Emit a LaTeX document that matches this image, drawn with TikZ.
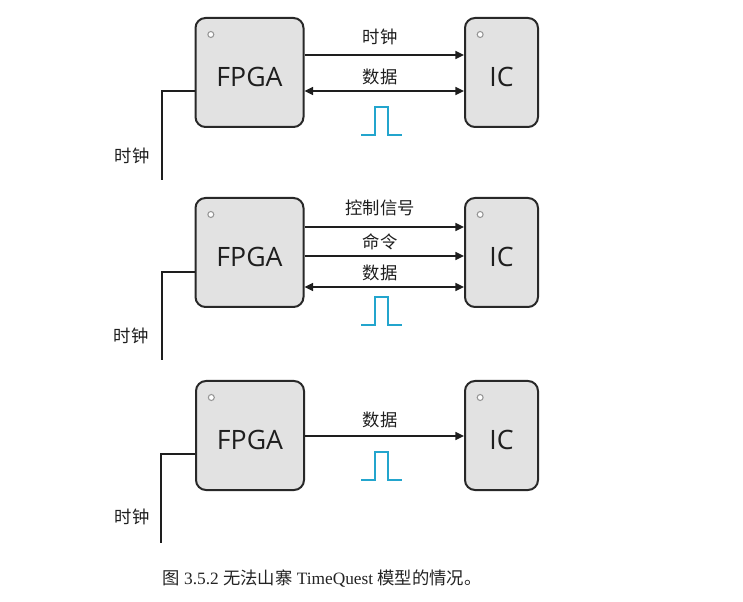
\documentclass[tikz,border=0pt]{standalone}
\usepackage{fontspec}
\setmainfont{Liberation Serif}
\newfontfamily\cjk{Noto Sans CJK SC}
\newfontfamily\chipfont{Open Sans}
\usetikzlibrary{arrows.meta}

\tikzset{every picture/.style={line width=0.75pt}}
\tikzset{
  chip/.style={draw={rgb, 255:red, 40; green, 40; blue, 40}, line width=1.5pt, fill={rgb, 255:red, 226; green, 226; blue, 226}, rounded corners=7.5pt, minimum height=81.75pt, inner sep=0pt},
  fpgabox/.style={chip, minimum width=81pt},
  icbox/.style={chip, minimum width=54.75pt},
  chiptext/.style={font=\chipfont\fontsize{20}{20}\selectfont, text={rgb, 255:red, 30; green, 30; blue, 30}},
  pin/.style={draw={rgb, 255:red, 150; green, 150; blue, 150}, fill=white, line width=0.8pt, circle, inner sep=0pt, minimum size=4.5pt},
  lbl/.style={font=\cjk\fontsize{13}{13}\selectfont, text={rgb, 255:red, 30; green, 30; blue, 30}},
  sig/.style={draw={rgb, 255:red, 30; green, 30; blue, 30}, line width=1.1pt, -{Triangle[length=6.5pt,width=6pt]}},
  bisig/.style={sig, {Triangle[length=6.5pt,width=6pt]}-{Triangle[length=6.5pt,width=6pt]}},
  clk/.style={draw={rgb, 255:red, 30; green, 30; blue, 30}, line width=1.1pt},
  pulse/.style={draw={rgb, 255:red, 35; green, 165; blue, 205}, line width=1.5pt}
}

\begin{document}
\begin{tikzpicture}[x=0.75pt,y=0.75pt,yscale=-1,xscale=1]
\useasboundingbox (0,0) rectangle (743,602);

%Chips, panel 1
\node [fpgabox] (fpgaA) at (249.5,72.5) {};
\node [icbox] (icA) at (501.5,72.5) {};
%Chips, panel 2
\node [fpgabox] (fpgaB) at (249.5,252.5) {};
\node [icbox] (icB) at (501.5,252.5) {};
%Chips, panel 3
\node [fpgabox] (fpgaC) at (250,435.5) {};
\node [icbox] (icC) at (501.5,435.5) {};

% pin marks
\foreach \c in {A,B,C} {
  \node [pin] (pf\c) at ([xshift=-29pt,yshift=-28.5pt]fpga\c.center) {};
  \node [pin] (pi\c) at ([xshift=-16pt,yshift=-28.5pt]ic\c.center) {};
  \node [chiptext] (tf\c) at ([yshift=3.4pt]fpga\c.center) {FPGA};
  \node [chiptext] (ti\c) at ([yshift=3.4pt]ic\c.center) {IC};
}

%Straight Lines, panel 1
\draw [sig] (fpgaA.east |- 0,55) -- (icA.west |- 0,55);
\draw [bisig] (fpgaA.east |- 0,91) -- (icA.west |- 0,91);
\coordinate (clkA) at (162,180);
\draw [clk] (fpgaA.west |- 0,91) -| (clkA);

%Straight Lines, panel 2
\draw [sig] (fpgaB.east |- 0,227) -- (icB.west |- 0,227);
\draw [sig] (fpgaB.east |- 0,256) -- (icB.west |- 0,256);
\draw [bisig] (fpgaB.east |- 0,287) -- (icB.west |- 0,287);
\coordinate (clkB) at (162,360);
\draw [clk] (fpgaB.west |- 0,272) -| (clkB);

%Straight Lines, panel 3
\draw [sig] (fpgaC.east |- 0,436) -- (icC.west |- 0,436);
\coordinate (clkC) at (161,543);
\draw [clk] (fpgaC.west |- 0,454) -| (clkC);

% pulses
\foreach \y in {135,325,480} {
  \draw [pulse] (361,\y) -- (375,\y) -- (375,\y-28) -- (388,\y-28) -- (388,\y) -- (402,\y);
}

% Text Node
\node [lbl] (lclkA) at (380,37) {时钟};
% Text Node
\node [lbl] (ldatA) at (380,77) {数据};
% Text Node
\node [lbl] (linA) at (132,156) {时钟};
% Text Node
\node [lbl] (lctlB) at (380,208) {控制信号};
% Text Node
\node [lbl] (lcmdB) at (380,242) {命令};
% Text Node
\node [lbl] (ldatB) at (380,273) {数据};
% Text Node
\node [lbl] (linB) at (131,336) {时钟};
% Text Node
\node [lbl] (ldatC) at (380,420) {数据};
% Text Node
\node [lbl] (linC) at (132,517) {时钟};
% Text Node
\node [font=\fontsize{13}{13}\selectfont, text={rgb, 255:red, 35; green, 35; blue, 35}] (cap) at (322,579) {{\cjk 图} 3.5.2 {\cjk 无法山寨} TimeQuest {\cjk 模型的情况。}};

\end{tikzpicture}
\end{document}
